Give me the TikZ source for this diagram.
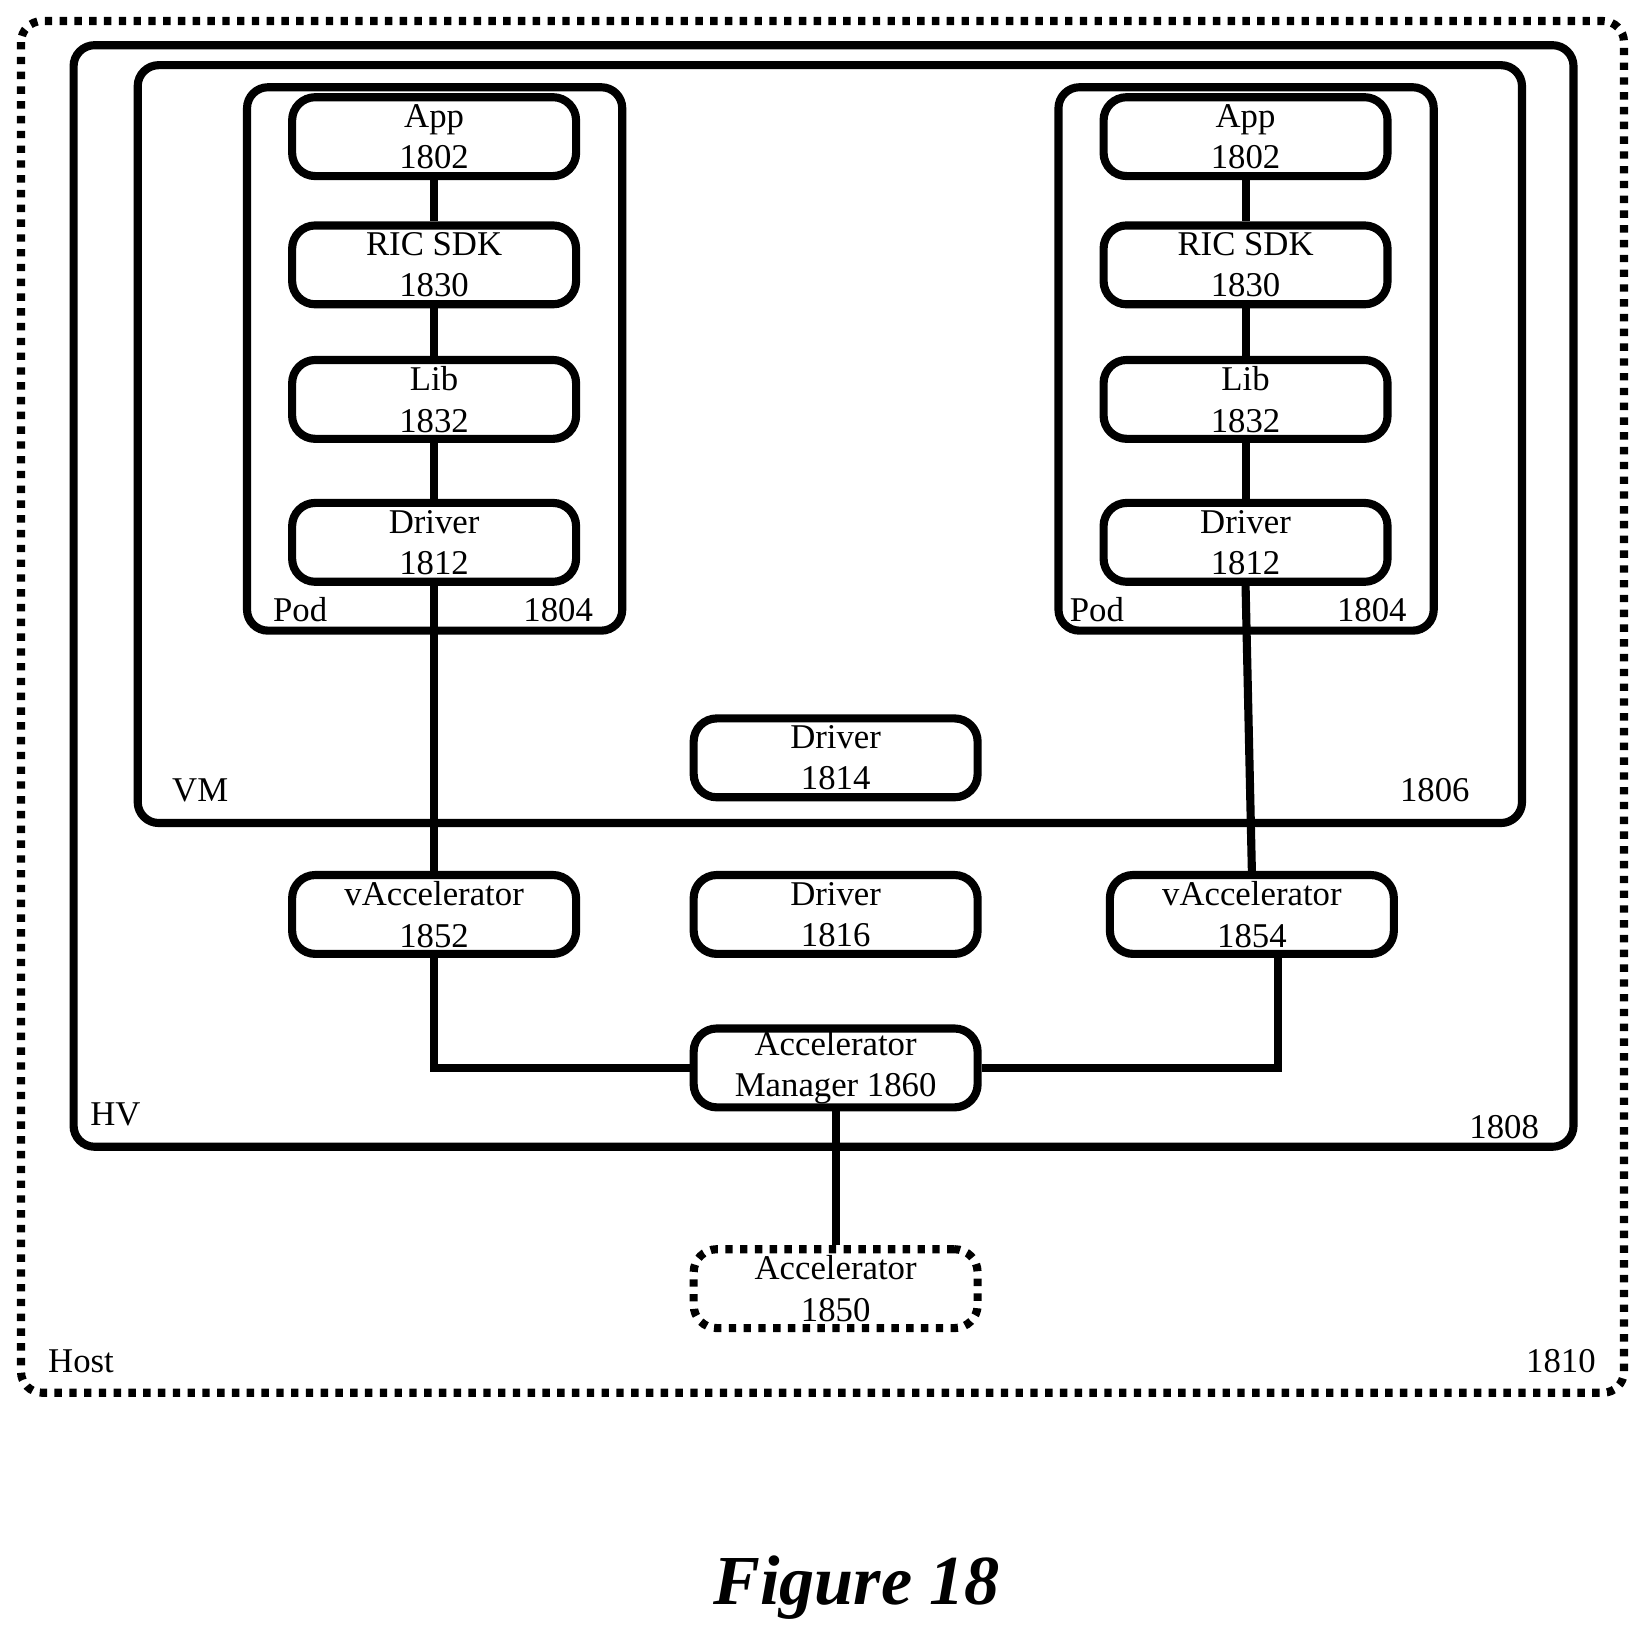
\documentclass[tikz,border=0pt]{standalone}
\usepackage{fontspec}
\setmainfont{Liberation Serif}
\usetikzlibrary{positioning,calc}
\tikzset{
    block/.style ={rectangle, draw, rounded corners=0.22cm, minimum width=2.7cm, minimum height=0.75cm, align=center, inner sep=0pt, font=\fontsize{9.4}{11.2}\selectfont},
    dashblock/.style ={block, dash pattern=on 2pt off 2pt},
    box/.style = {draw, rounded corners=0.2cm},
    lbl/.style = {inner sep=0pt, font=\fontsize{9.4}{11.2}\selectfont}
}
\begin{document}
\begin{tikzpicture}[x=0.01cm,y=-0.01cm,line width=2.2pt]
    \useasboundingbox (0,0) rectangle (1565,1561);
    % containers
    \draw[box, dash pattern=on 2pt off 2pt] (20,20) rectangle (1545,1325);
    \draw[box] (70,43) rectangle (1497,1091);
    \draw[box] (131,62) rectangle (1448,783);
    \draw[box] (235,83) rectangle (592,600);
    \draw[box] (1007,83) rectangle (1364,600);
    \node[lbl, anchor=west] (host) at (42,1295) {Host};
    \node[lbl, anchor=east] (n1810) at (1522,1295) {1810};
    \node[lbl, anchor=west] (hv) at (82,1060) {HV};
    \node[lbl, anchor=east] (n1808) at (1468,1072) {1808};
    \node[lbl, anchor=west] (vm) at (160,752) {VM};
    \node[lbl, anchor=east] (n1806) at (1402,752) {1806};
    \node[lbl, anchor=west] (podl) at (256,580) {Pod};
    \node[lbl, anchor=east] (n1804l) at (568,580) {1804};
    \node[lbl, anchor=west] (podr) at (1014,580) {Pod};
    \node[lbl, anchor=east] (n1804r) at (1342,580) {1804};

    % pod stacks
    \foreach \s/\x in {l/413,r/1185} {
        \node[block] (app\s) at (\x,130) {App\\1802};
        \node[block] (sdk\s) at (\x,252) {RIC SDK\\1830};
        \node[block] (lib\s) at (\x,380) {Lib\\1832};
        \node[block] (drv\s) at (\x,516) {Driver\\1812};
        \path (app\s) edge (sdk\s);
        \path (sdk\s) edge (lib\s);
        \path (lib\s) edge (drv\s);
    }

    \node[block] (d1814) at (795,721) {Driver\\1814};
    \node[block] (va1852) at (413,870) {vAccelerator\\1852};
    \node[block] (d1816) at (795,870) {Driver\\1816};
    \node[block] (va1854) at (1191,870) {vAccelerator\\1854};
    \node[block] (mgr) at (795,1016) {Accelerator\\Manager 1860};
    \node[dashblock] (acc) at (795,1226) {Accelerator\\1850};

    \draw (drvl) -- (va1852);
    \draw (drvr.south) -- (va1854.north);
    \draw (va1852.south) |- (mgr.west);
    \draw (va1854.south -| 1216,0) |- (mgr.east);
    \draw (mgr) -- (acc);

    \node[inner sep=0pt, font=\fontsize{19}{23}\selectfont\bfseries\itshape] (fig) at (815,1510) {Figure 18};
\end{tikzpicture}
\end{document}
